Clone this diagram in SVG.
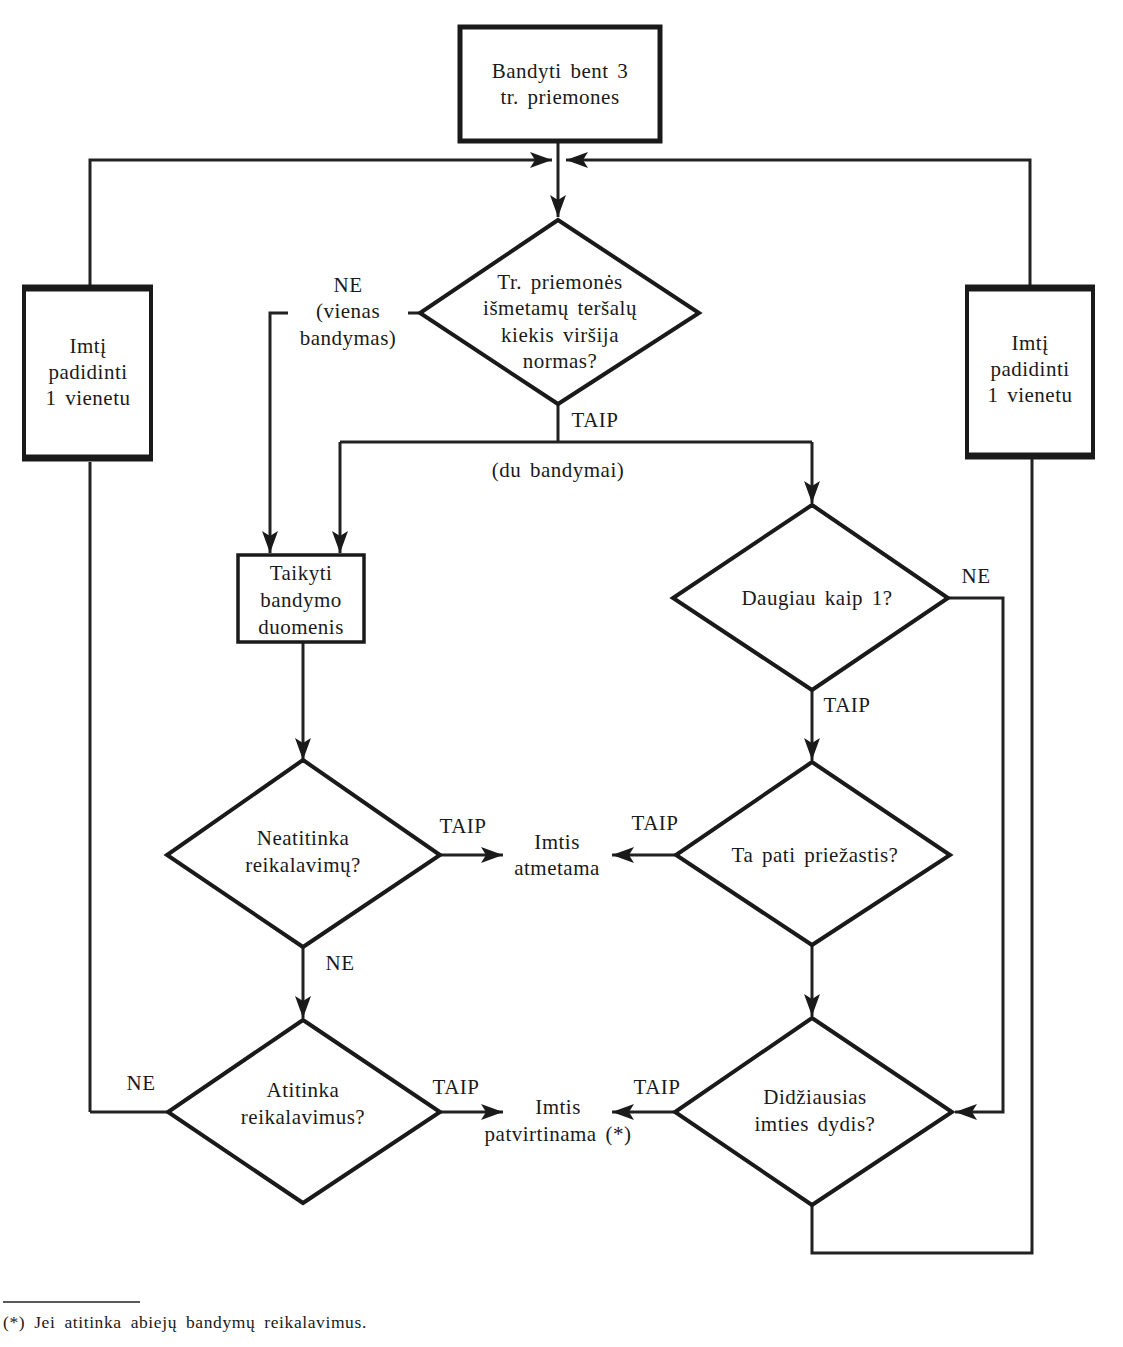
<svg xmlns="http://www.w3.org/2000/svg" width="1123" height="1347" viewBox="0 0 1123 1347">
<style>
text{font-family:"Liberation Serif","Times New Roman",serif;font-size:21px;fill:#1a1a1a;text-anchor:middle;letter-spacing:0.5px;word-spacing:3px}
.ln{fill:none;stroke:#222;stroke-width:3}
.dm{fill:#fff;stroke:#1a1a1a;stroke-width:4;stroke-linejoin:miter}
.bx{fill:#fff;stroke:#1a1a1a;stroke-width:4}
.bar{stroke:#1a1a1a;stroke-width:7}
.fn{font-size:17.5px;text-anchor:start;letter-spacing:0.6px;word-spacing:4px}
</style>
<defs>
<marker id="ah" markerUnits="userSpaceOnUse" markerWidth="24" markerHeight="16" refX="22" refY="8" orient="auto">
<path d="M0,0 L22,8 L0,16 L5,8 Z" fill="#1a1a1a"/>
</marker>
</defs>
<rect width="1123" height="1347" fill="#fff"/>
<g id="connectors">
<path class="ln" d="M90,1112 H168"/>
<path class="ln" d="M90,462 V1112"/>
<path class="ln" d="M90,285 V160 H552" marker-end="url(#ah)"/>
<path class="ln" d="M1030,285 V160 H566" marker-end="url(#ah)"/>
<path class="ln" d="M812,1205 V1253 H1032 V458"/>
<path class="ln" d="M558,143 V217" marker-end="url(#ah)"/>
<path class="ln" d="M420,313 H408"/>
<path class="ln" d="M288,313 H270 V553" marker-end="url(#ah)"/>
<path class="ln" d="M558,403 V442"/>
<path class="ln" d="M340,442 H812"/>
<path class="ln" d="M340,442 V553" marker-end="url(#ah)"/>
<path class="ln" d="M812,442 V503" marker-end="url(#ah)"/>
<path class="ln" d="M303,643 V760" marker-end="url(#ah)"/>
<path class="ln" d="M440,855 H503" marker-end="url(#ah)"/>
<path class="ln" d="M303,947 V1018" marker-end="url(#ah)"/>
<path class="ln" d="M440,1112 H503" marker-end="url(#ah)"/>
<path class="ln" d="M812,690 V760" marker-end="url(#ah)"/>
<path class="ln" d="M676,855 H612" marker-end="url(#ah)"/>
<path class="ln" d="M812,945 V1016" marker-end="url(#ah)"/>
<path class="ln" d="M675,1112 H612" marker-end="url(#ah)"/>
<path class="ln" d="M948,598 H1003 V1112 H955" marker-end="url(#ah)"/>
</g>
<g id="start">
<rect x="460" y="27" width="200" height="114" fill="#fff" stroke="#1a1a1a" stroke-width="5"/>
<text x="560" y="78">Bandyti bent 3</text>
<text x="560" y="104">tr. priemones</text>
</g>
<g id="left-box">
<rect class="bx" x="24" y="287" width="127" height="172"/>
<line class="bar" x1="22" y1="288" x2="153" y2="288"/>
<line class="bar" x1="22" y1="458" x2="153" y2="458"/>
<text x="88" y="353">Imtį</text>
<text x="88" y="379">padidinti</text>
<text x="88" y="405">1  vienetu</text>
</g>
<g id="right-box">
<rect class="bx" x="967" y="287" width="126" height="170"/>
<line class="bar" x1="965" y1="288" x2="1095" y2="288"/>
<line class="bar" x1="965" y1="456" x2="1095" y2="456"/>
<text x="1030" y="350">Imtį</text>
<text x="1030" y="376">padidinti</text>
<text x="1030" y="402">1  vienetu</text>
</g>
<g id="d-exceeds">
<polygon class="dm" points="558,220 699,313 558,404 420,313"/>
<text x="560" y="289">Tr. priemonės</text>
<text x="560" y="315">išmetamų teršalų</text>
<text x="560" y="342">kiekis viršija</text>
<text x="560" y="368">normas?</text>
</g>
<g id="labels-top">
<text x="348" y="292">NE</text>
<text x="348" y="318">(vienas</text>
<text x="348" y="345">bandymas)</text>
<text x="595" y="427">TAIP</text>
<text x="558" y="477">(du bandymai)</text>
</g>
<g id="apply">
<rect x="238" y="555" width="126" height="87" fill="#fff" stroke="#1a1a1a" stroke-width="3.5"/>
<text x="301" y="580">Taikyti</text>
<text x="301" y="607">bandymo</text>
<text x="301" y="634">duomenis</text>
</g>
<g id="d-more">
<polygon class="dm" points="812,505 948,598 812,690 673,598"/>
<text x="817" y="605">Daugiau kaip 1?</text>
<text x="976" y="583">NE</text>
<text x="847" y="712">TAIP</text>
</g>
<g id="d-not-comply">
<polygon class="dm" points="303,760 440,855 303,947 167,855"/>
<text x="303" y="845">Neatitinka</text>
<text x="303" y="872">reikalavimų?</text>
<text x="463" y="833">TAIP</text>
<text x="340" y="970">NE</text>
</g>
<g id="rejected">
<text x="557" y="849">Imtis</text>
<text x="557" y="875">atmetama</text>
</g>
<g id="d-same">
<polygon class="dm" points="812,762 950,855 812,945 676,855"/>
<text x="815" y="862">Ta pati priežastis?</text>
<text x="655" y="830">TAIP</text>
</g>
<g id="d-comply">
<polygon class="dm" points="303,1020 440,1112 303,1203 168,1112"/>
<text x="303" y="1097">Atitinka</text>
<text x="303" y="1124">reikalavimus?</text>
<text x="456" y="1094">TAIP</text>
<text x="141" y="1090">NE</text>
</g>
<g id="approved">
<text x="558" y="1114">Imtis</text>
<text x="558" y="1141">patvirtinama (*)</text>
</g>
<g id="d-max">
<polygon class="dm" points="812,1018 952,1112 812,1205 675,1112"/>
<text x="815" y="1104">Didžiausias</text>
<text x="815" y="1131">imties dydis?</text>
<text x="657" y="1094">TAIP</text>
</g>
<g id="footnote">
<line x1="3" y1="1302" x2="140" y2="1302" stroke="#222" stroke-width="1.5"/>
<text class="fn" x="3" y="1328">(*) Jei atitinka abiejų bandymų reikalavimus.</text>
</g>
</svg>
